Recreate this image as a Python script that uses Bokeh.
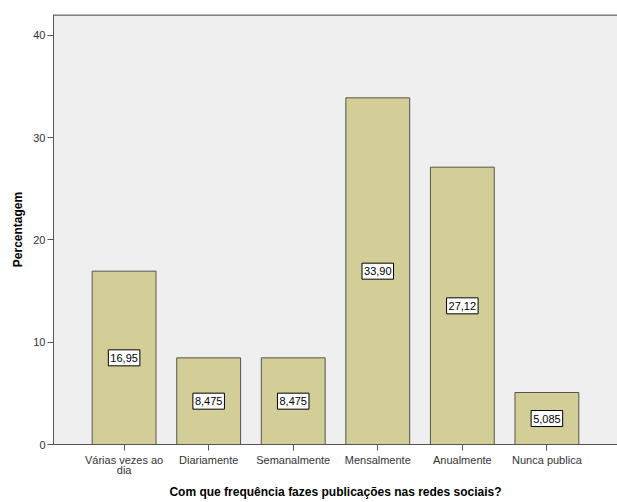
from bokeh.plotting import figure
from bokeh.models import Range1d, FixedTicker, Span, ColumnDataSource
from bokeh.core.properties import value
from bokeh.embed import file_html
from bokeh.resources import INLINE

categories = ["Várias vezes ao\ndia", "Diariamente", "Semanalmente",
              "Mensalmente", "Anualmente", "Nunca publica"]
percent = [16.95, 8.475, 8.475, 33.90, 27.12, 5.085]
labels = ["16,95", "8,475", "8,475", "33,90", "27,12", "5,085"]
y_ticks = [0, 10, 20, 30, 40]

FONT = "Liberation Sans"
x = list(range(len(categories)))
src = ColumnDataSource(dict(x=x, top=percent, mid=[v / 2 for v in percent], label=labels))

y_end = 42.05
p = figure(width=617, height=502, output_backend="svg", toolbar_location=None,
           x_range=Range1d(-0.835, 5.835), y_range=Range1d(0, y_end),
           min_border_left=53, min_border_right=0, min_border_top=14, min_border_bottom=0)
p.background_fill_color = "#efefef"
p.border_fill_color = "white"
p.outline_line_color = None
p.grid.visible = False

p.vbar(x="x", top="top", width=0.755, bottom=0, source=src,
       fill_color="#d3ce98", line_color="#55554a", line_width=1)
p.text(x="x", y="mid", text="label", source=src, text_align="center",
       text_baseline="middle", text_font=value(FONT), text_font_size="11px",
       text_color="black", background_fill_color="white",
       border_line_color="black", border_line_width=1, padding=dict(x=2, y=4))

p.add_layout(Span(location=y_end, dimension="width", line_color="#7f7f7f", line_width=3))

for ax in (p.xaxis, p.yaxis):
    ax.axis_line_color = "#555555"
    ax.major_tick_line_color = "#555555"
    ax.major_tick_out = 6
    ax.major_tick_in = 0
    ax.minor_tick_line_color = None
    ax.major_label_text_font = FONT
    ax.major_label_text_font_size = "11px"
    ax.major_label_text_color = "#333333"
    ax.axis_label_text_font = FONT
    ax.axis_label_text_font_size = "12px"
    ax.axis_label_text_font_style = "bold"
    ax.axis_label_text_color = "black"

p.xaxis.ticker = FixedTicker(ticks=x)
p.xaxis.major_label_overrides = {i: c for i, c in enumerate(categories)}
p.xaxis.major_label_standoff = 3
p.xaxis.major_label_text_line_height = 0.9
p.xaxis.axis_label = "Com que frequência fazes publicações nas redes sociais?"
p.xaxis.axis_label_standoff = 6

p.yaxis.ticker = FixedTicker(ticks=y_ticks)
p.yaxis.major_label_standoff = 2
p.yaxis.axis_label = "Percentagem"
p.yaxis.axis_label_standoff = 5

open("out.html", "w").write(file_html(p, INLINE))
